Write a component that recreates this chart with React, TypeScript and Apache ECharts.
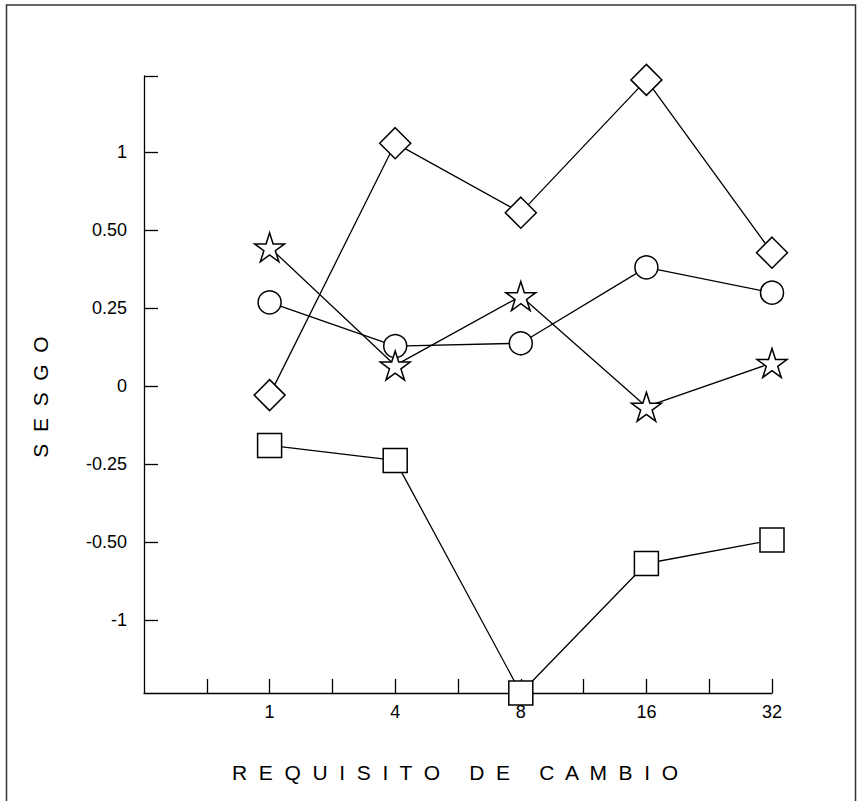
import React, { useEffect, useRef } from 'react';
import * as echarts from 'echarts';

// x categories (equally spaced on the axis)
const categories = ['1', '4', '8', '16', '32'];
// y tick values (equally spaced on the axis) and their labels
const yTickValues = [-1, -0.5, -0.25, 0, 0.25, 0.5, 1];
const yTickLabels = ['-1', '-0.50', '-0.25', '0', '0.25', '0.50', '1'];

// series values
const diamondValues = [-0.029, 1.11, 0.61, 1.92, 0.427];
const circleValues = [0.268, 0.128, 0.137, 0.38, 0.299];
const starValues = [0.444, 0.066, 0.288, -0.066, 0.074];
const squareValues = [-0.19, -0.238, -1.93, -0.636, -0.493];

// piecewise scale of the y axis: 0, 0.25, 0.5, 1 (, 2) equally spaced
function toAxis(v: number): number {
  const a = Math.abs(v);
  let p: number;
  if (a <= 0.5) p = a / 0.25;
  else if (a <= 1) p = 2 + (a - 0.5) / 0.5;
  else p = 3 + (a - 1);
  return v < 0 ? -p : p;
}

const STAR =
  'path://M0,-1 L0.2245,-0.309 L0.951,-0.309 L0.363,0.118 L0.588,0.809 L0,0.382 L-0.588,0.809 L-0.363,0.118 L-0.951,-0.309 L-0.2245,-0.309 Z';

const FONT = '"Liberation Sans", Arial, sans-serif';

export default function App() {
  const ref = useRef<HTMLDivElement>(null);
  useEffect(() => {
    if (!ref.current) return;
    const chart = echarts.init(ref.current, undefined, { renderer: 'svg' });
    const mk = (vals: number[]) => vals.map((v, i) => [i + 1, toAxis(v)]);
    const base = {
      type: 'line' as const,
      lineStyle: { color: '#000', width: 1.3 },
      itemStyle: { color: '#fff', borderColor: '#000', borderWidth: 1.5 },
      emphasis: { disabled: true },
      silent: true,
    };
    const yMax = 3.97;
    chart.setOption({
      animation: false,
      backgroundColor: '#fff',
      grid: { left: 144, top: 76, width: 628, height: 617, containLabel: false },
      xAxis: {
        type: 'value',
        min: 0,
        max: 5,
        axisLine: { show: true, onZero: false, lineStyle: { color: '#000', width: 1.3 } },
        axisTick: {
          show: true,
          inside: true,
          length: 14,
          lineStyle: { color: '#000', width: 1.3 },
          customValues: [0.5, 1, 1.5, 2, 2.5, 3, 3.5, 4, 4.5, 5],
        },
        axisLabel: {
          show: true,
          customValues: [1, 2, 3, 4, 5],
          formatter: (v: number) => categories[Math.round(v) - 1] ?? '',
          color: '#000',
          fontSize: 18,
          fontFamily: FONT,
          margin: 10,
        },
        splitLine: { show: false },
      },
      yAxis: {
        type: 'value',
        min: -3.93,
        max: yMax,
        axisLine: { show: true, onZero: false, lineStyle: { color: '#000', width: 1.3 } },
        axisTick: {
          show: true,
          inside: true,
          length: 14,
          lineStyle: { color: '#000', width: 1.3 },
          customValues: [...yTickValues.map(toAxis), yMax],
        },
        axisLabel: {
          show: true,
          customValues: yTickValues.map(toAxis),
          formatter: (v: number) => {
            const idx = yTickValues.findIndex((t) => Math.abs(toAxis(t) - v) < 1e-6);
            return idx >= 0 ? yTickLabels[idx] : '';
          },
          color: '#000',
          fontSize: 18,
          fontFamily: FONT,
          margin: 17,
        },
        splitLine: { show: false },
      },
      series: [
        { ...base, name: 'diamond', data: mk(diamondValues), symbol: 'diamond', symbolSize: 31 },
        { ...base, name: 'circle', data: mk(circleValues), symbol: 'circle', symbolSize: 23 },
        { ...base, name: 'star', data: mk(starValues), symbol: STAR, symbolSize: [30, 29] },
        { ...base, name: 'square', data: mk(squareValues), symbol: 'rect', symbolSize: 24 },
      ],
      graphic: [
        {
          type: 'rect',
          silent: true,
          shape: { x: 6.5, y: 5, width: 849, height: 830 },
          style: { fill: 'none', stroke: '#333', lineWidth: 1.5 },
          z: -1,
        },
        {
          type: 'text',
          silent: true,
          x: 455,
          y: 772,
          style: {
            text: 'R  E  Q  U  I  S  I  T  O     D  E     C  A  M  B  I  O',
            font: `21px ${FONT}`,
            fill: '#000',
            align: 'center',
            verticalAlign: 'middle',
          },
        },
        {
          type: 'text',
          silent: true,
          x: 40,
          y: 397,
          rotation: Math.PI / 2,
          style: {
            text: 'S  E  S  G  O',
            font: `21px ${FONT}`,
            fill: '#000',
            align: 'center',
            verticalAlign: 'middle',
          },
        },
      ],
    });
    return () => chart.dispose();
  }, []);
  return (
    <div
      ref={ref}
      style={{ position: 'absolute', left: 0, top: 0, width: 862, height: 801 }}
    />
  );
}
